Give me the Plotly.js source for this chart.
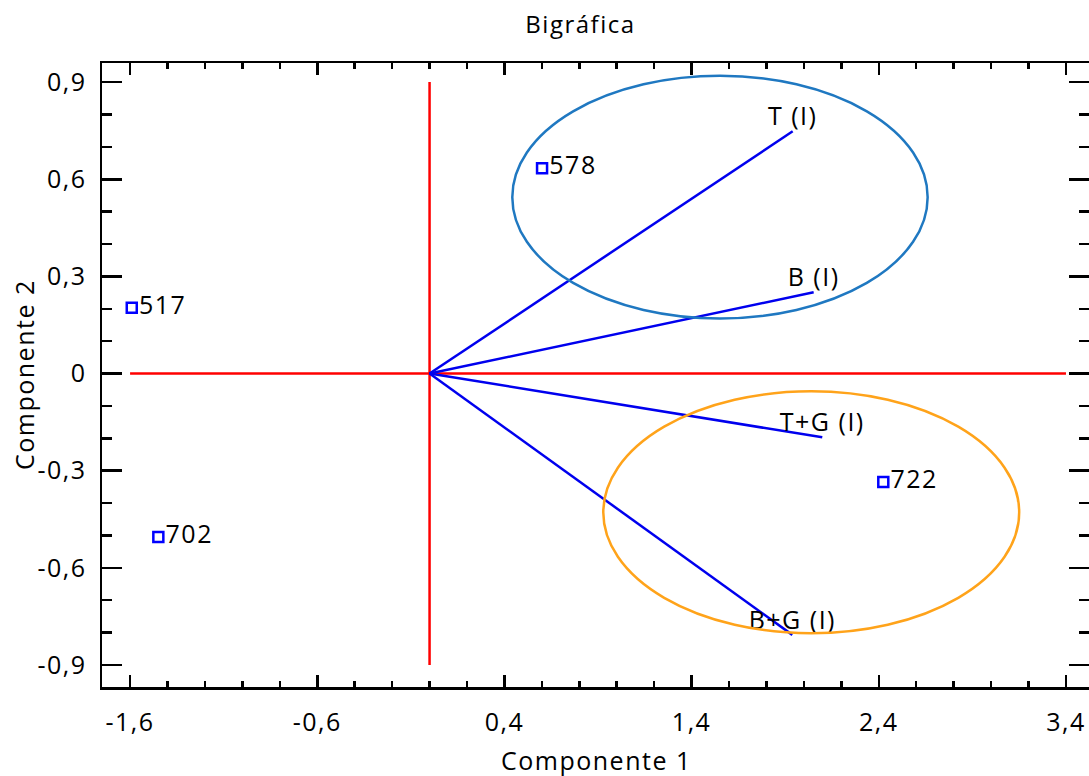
<!DOCTYPE html>
<html>
<head>
<meta charset="utf-8">
<script src="https://cdn.plot.ly/plotly-3.0.1.min.js"></script>
<style>
  html, body { margin: 0; padding: 0; background: #fff; }
  #chart { width: 1089px; height: 776px; }
  .main-svg text { letter-spacing: 1.5px; }
</style>
</head>
<body>
<div id="chart"></div>
<script>
// Observations (scores)
const obsLabels = ['578', '517', '702', '722'];
const obsX = [0.601, -1.591, -1.449, 2.424];
const obsY = [0.634, 0.203, -0.505, -0.335];

// Variables (loadings vectors from origin)
const varLabels = ['T (I)', 'B (I)', 'T+G (I)', 'B+G (I)'];
const varX = [1.940, 2.052, 2.098, 1.938];
const varY = [0.748, 0.251, -0.197, -0.807];

// Reference axes (red)
const hLineX = [-1.6, 3.4];
const hLineY = [0, 0];
const vLineX = [0, 0];
const vLineY = [-0.9, 0.9];

// Group ellipses (bounding boxes in data units)
const ellX0 = [0.442, 0.928];
const ellX1 = [2.661, 3.150];
const ellY0 = [0.170, -0.802];
const ellY1 = [0.9195, -0.0547];
const ellColors = ['#1f78c1', '#ffa31a'];

// Tick labels
const xTickVals = [-1.6, -0.6, 0.4, 1.4, 2.4, 3.4];
const xTickText = ['-1,6', '-0,6', '0,4', '1,4', '2,4', '3,4'];
const yTickVals = [-0.9, -0.6, -0.3, 0, 0.3, 0.6, 0.9];
const yTickText = ['-0,9', '-0,6', '-0,3', '0', '0,3', '0,6', '0,9'];

const FONT = '"Open Sans", "Noto Sans", sans-serif';

const traces = [];
traces.push({
  x: hLineX, y: hLineY, mode: 'lines', type: 'scatter',
  line: { color: '#ff0000', width: 2.5 }, hoverinfo: 'skip', showlegend: false
});
traces.push({
  x: vLineX, y: vLineY, mode: 'lines', type: 'scatter',
  line: { color: '#ff0000', width: 2.5 }, hoverinfo: 'skip', showlegend: false
});
for (let i = 0; i < varLabels.length; i++) {
  traces.push({
    x: [0, varX[i]], y: [0, varY[i]], mode: 'lines+text', type: 'scatter',
    text: ['', varLabels[i]], textposition: 'top center',
    textfont: { family: FONT, size: 25, color: '#000' },
    line: { color: '#0000ee', width: 2.5 }, showlegend: false
  });
}
traces.push({
  x: obsX, y: obsY, mode: 'markers+text', type: 'scatter',
  text: obsLabels, textposition: 'middle right',
  textfont: { family: FONT, size: 25, color: '#000' },
  marker: { symbol: 'square-open', size: 10, color: '#0000ff', line: { width: 2.5, color: '#0000ff' } },
  showlegend: false
});

const shapes = [];
for (let i = 0; i < ellX0.length; i++) {
  shapes.push({
    type: 'circle', xref: 'x', yref: 'y',
    x0: ellX0[i], x1: ellX1[i], y0: ellY0[i], y1: ellY1[i],
    line: { color: ellColors[i], width: 2.5 }
  });
}

const layout = {
  width: 1089, height: 776,
  margin: { l: 102, r: 0, t: 63, b: 89 },
  paper_bgcolor: '#fff', plot_bgcolor: '#fff',
  font: { family: FONT, size: 25, color: '#000' },
  title: {
    text: 'Bigráfica', font: { family: FONT, size: 24, color: '#000' },
    xref: 'container', yref: 'container', x: 0.533, y: 0.968,
    xanchor: 'center', yanchor: 'middle'
  },
  xaxis: {
    range: [-1.75, 3.523], showgrid: false, zeroline: false,
    showline: true, linecolor: '#000', linewidth: 2.5, mirror: 'allticks',
    ticks: 'inside', ticklen: 12, tickwidth: 2.5, tickcolor: '#000',
    tickmode: 'array', tickvals: xTickVals, ticktext: xTickText,
    ticklabelstandoff: 11,
    tickfont: { family: FONT, size: 25, color: '#000' },
    minor: { tickmode: 'linear', tick0: -1.6, dtick: 0.2, ticks: 'inside', ticklen: 6, tickwidth: 2.5, tickcolor: '#000', showgrid: false }
  },
  yaxis: {
    range: [-0.968, 0.959], showgrid: false, zeroline: false,
    showline: true, linecolor: '#000', linewidth: 2.5, mirror: 'allticks',
    ticks: 'inside', ticklen: 20, tickwidth: 2.5, tickcolor: '#000',
    tickmode: 'array', tickvals: yTickVals, ticktext: yTickText,
    ticklabelstandoff: 8,
    tickfont: { family: FONT, size: 25, color: '#000' },
    minor: { tickmode: 'linear', tick0: 0, dtick: 0.1, ticks: 'inside', ticklen: 10, tickwidth: 2.5, tickcolor: '#000', showgrid: false }
  },
  shapes: shapes,
  annotations: [
    { text: 'Componente 1', xref: 'paper', yref: 'paper', x: 0.501, y: 0, yshift: -73,
      xanchor: 'center', yanchor: 'middle', showarrow: false,
      font: { family: FONT, size: 25, color: '#000' } },
    { text: 'Componente 2', xref: 'paper', yref: 'paper', x: 0, xshift: -78, y: 0.5,
      xanchor: 'center', yanchor: 'middle', textangle: -90, showarrow: false,
      font: { family: FONT, size: 25, color: '#000' } }
  ],
  showlegend: false
};

Plotly.newPlot('chart', traces, layout, { displayModeBar: false, staticPlot: true });
</script>
</body>
</html>
